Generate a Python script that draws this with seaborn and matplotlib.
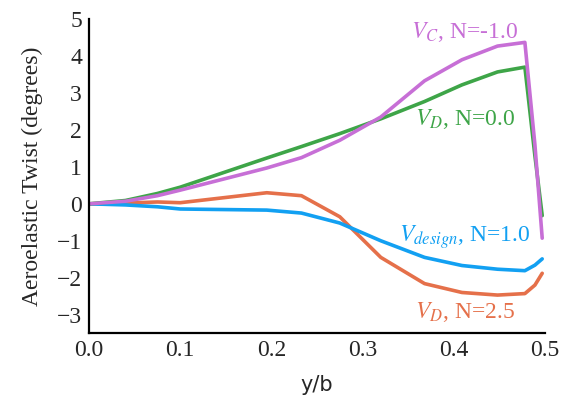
import numpy as np
import pandas as pd
import matplotlib
matplotlib.use("Agg")
import matplotlib.pyplot as plt
import seaborn as sns

# ---- data ----
y_over_b = [0.0, 0.04, 0.075, 0.1, 0.195, 0.233, 0.275, 0.32, 0.368, 0.409, 0.448, 0.478, 0.489, 0.497]
twist_vc_n_m1 = [0.0, 0.07, 0.22, 0.37, 0.97, 1.25, 1.72, 2.35, 3.33, 3.9, 4.27, 4.37, 1.6, -0.93]
twist_vd_n_0 = [0.0, 0.09, 0.28, 0.45, 1.24, 1.55, 1.9, 2.3, 2.77, 3.22, 3.57, 3.7, 1.3, -0.32]
twist_vdes_n_1 = [0.0, -0.03, -0.08, -0.14, -0.17, -0.25, -0.52, -1.0, -1.45, -1.67, -1.77, -1.81, -1.66, -1.49]
twist_vd_n_25 = [0.0, 0.02, 0.05, 0.03, 0.3, 0.22, -0.35, -1.45, -2.16, -2.4, -2.47, -2.43, -2.2, -1.88]
series_names = ["VC", "VD0", "Vdes", "VD25"]
series_labels = [r"$V_C$, N=-1.0", r"$V_D$, N=0.0", r"$V_{design}$, N=1.0", r"$V_D$, N=2.5"]
series_colors = ["#c76fd6", "#3ea548", "#12a0f2", "#e5704a"]
x_ticks = [0.0, 0.1, 0.2, 0.3, 0.4, 0.5]
y_ticks = [-3, -2, -1, 0, 1, 2, 3, 4, 5]

frames = []
for name, vals in zip(series_names, [twist_vc_n_m1, twist_vd_n_0, twist_vdes_n_1, twist_vd_n_25]):
    frames.append(pd.DataFrame({"y/b": y_over_b, "twist": vals, "series": name}))
df = pd.concat(frames, ignore_index=True)

sns.set_style("white")
plt.rcParams["font.family"] = ["Liberation Serif", "DejaVu Serif"]
plt.rcParams["mathtext.fontset"] = "stix"

fig = plt.figure(figsize=(5.65, 3.98), dpi=100)
ax = fig.add_axes([0.1575, 0.163, 0.807, 0.789])

sns.lineplot(data=df, x="y/b", y="twist", hue="series", hue_order=["VD25", "Vdes", "VD0", "VC"],
             palette=dict(zip(series_names, series_colors)), linewidth=2.6, legend=False,
             sort=False, estimator=None, ax=ax)

ax.set_xlim(0.0, 0.5)
ax.set_ylim(-3.5, 5.0)
ax.set_xticks(x_ticks)
ax.set_xticklabels([f"{v:.1f}" for v in x_ticks])
ax.set_yticks(y_ticks)
ax.set_yticklabels([("\u2212" + str(-v)) if v < 0 else str(v) for v in y_ticks])
ax.tick_params(direction="in", length=5, width=0.8, color="#999999", labelsize=17, pad=5)
for s in ["top", "right"]:
    ax.spines[s].set_visible(False)
for s in ["left", "bottom"]:
    ax.spines[s].set_color("black")
    ax.spines[s].set_linewidth(1.6)

ax.set_xlabel("y/b", fontsize=15, family="DejaVu Sans", labelpad=10)
ax.set_ylabel("Aeroelastic Twist (degrees)", fontsize=17, labelpad=10)

label_pos = [(0.412, 4.65), (0.412, 2.3), (0.412, -0.89), (0.412, -2.92)]
for (lx, ly), txt, c in zip(label_pos, series_labels, series_colors):
    ax.text(lx, ly, txt, color=c, fontsize=17, ha="center", va="center")

fig.savefig("out.png", dpi=100)
